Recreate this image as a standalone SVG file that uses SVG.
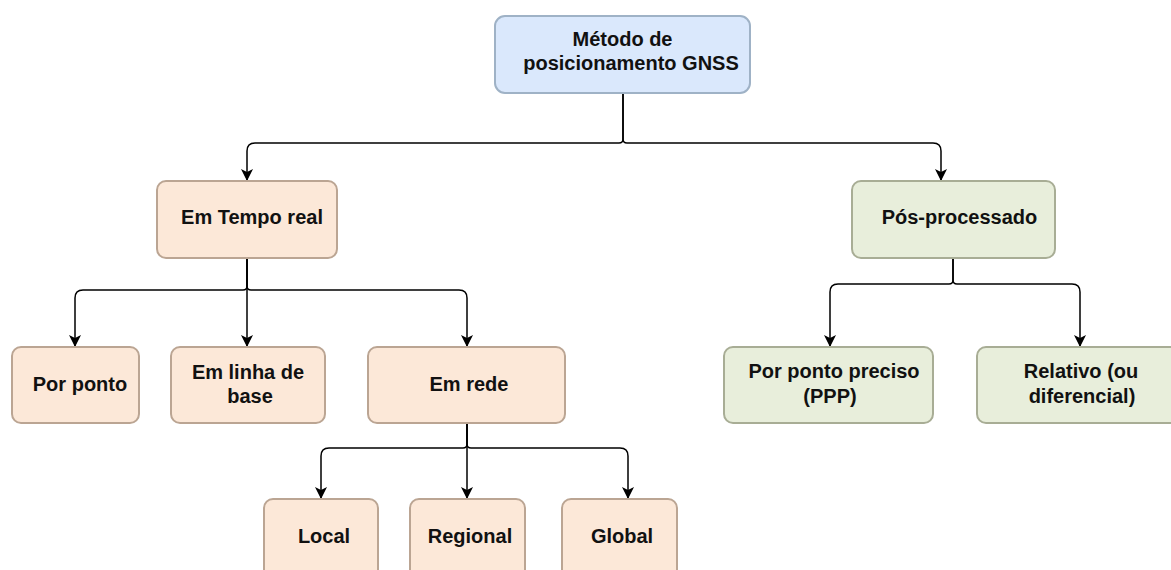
<svg xmlns="http://www.w3.org/2000/svg" width="1171" height="570" viewBox="0 0 1171 570">
<style>
.box{stroke-width:2}
.blue{fill:#dae8fc;stroke:#9fb2c6}
.peach{fill:#fce8d8;stroke:#bba593}
.green{fill:#e8eedb;stroke:#a8ad95}
text{font-family:"Liberation Sans",Arial,sans-serif;font-weight:bold;font-size:20px;fill:#111;text-anchor:middle}
.edge{fill:none;stroke:#000;stroke-width:1.5;marker-end:url(#arr)}
</style>
<defs>
<marker id="arr" markerUnits="userSpaceOnUse" markerWidth="14" markerHeight="14" viewBox="0 0 14 14" refX="13" refY="7" orient="auto">
<path d="M1,1 L13,7 L1,13 L4,7 z" fill="#000"/>
</marker>
</defs>
<rect width="1171" height="570" fill="#fff"/>
<g id="connectors">
<path class="edge" d="M623,93 V139 Q623,143 619,143 H255 Q247,143 247,151 V181"/>
<path class="edge" d="M623,93 V139 Q623,143 627,143 H933 Q941,143 941,151 V181"/>
<path class="edge" d="M247,258 V286 Q247,290 243,290 H83 Q75,290 75,298 V347"/>
<path class="edge" d="M247,258 V347"/>
<path class="edge" d="M247,258 V286 Q247,290 251,290 H459 Q467,290 467,298 V347"/>
<path class="edge" d="M953,258 V280 Q953,284 949,284 H838 Q830,284 830,292 V347"/>
<path class="edge" d="M953,258 V280 Q953,284 957,284 H1072 Q1080,284 1080,292 V347"/>
<path class="edge" d="M467,423 V444 Q467,448 463,448 H329 Q321,448 321,456 V499"/>
<path class="edge" d="M467,423 V499"/>
<path class="edge" d="M467,423 V444 Q467,448 471,448 H620 Q628,448 628,456 V499"/>
</g>
<g id="n-gnss">
<rect class="box blue" x="495" y="16" width="255" height="77" rx="10"/>
<text x="622.5" y="46">Método de</text>
<text x="631" y="70">posicionamento GNSS</text>
</g>
<g id="n-tempo-real">
<rect class="box peach" x="157" y="181" width="180" height="77" rx="9"/>
<text x="252" y="224">Em Tempo real</text>
</g>
<g id="n-pos">
<rect class="box green" x="852" y="181" width="203" height="77" rx="9"/>
<text x="959.5" y="224">Pós-processado</text>
</g>
<g id="n-por-ponto">
<rect class="box peach" x="12" y="347" width="127" height="76" rx="9"/>
<text x="80" y="391">Por ponto</text>
</g>
<g id="n-linha-base">
<rect class="box peach" x="171" y="347" width="154" height="76" rx="9"/>
<text x="248" y="379">Em linha de</text>
<text x="250" y="403">base</text>
</g>
<g id="n-rede">
<rect class="box peach" x="368" y="347" width="197" height="76" rx="9"/>
<text x="469" y="391">Em rede</text>
</g>
<g id="n-ppp">
<rect class="box green" x="724" y="347" width="209" height="76" rx="9"/>
<text x="834" y="378">Por ponto preciso</text>
<text x="830" y="403">(PPP)</text>
</g>
<g id="n-relativo">
<rect class="box green" x="977" y="347" width="205" height="76" rx="9"/>
<text x="1081" y="378">Relativo (ou</text>
<text x="1082" y="403">diferencial)</text>
</g>
<g id="n-local">
<rect class="box peach" x="264" y="499" width="114" height="80" rx="9"/>
<text x="324" y="543">Local</text>
</g>
<g id="n-regional">
<rect class="box peach" x="410" y="499" width="115" height="80" rx="9"/>
<text x="470" y="543">Regional</text>
</g>
<g id="n-global">
<rect class="box peach" x="562" y="499" width="115" height="80" rx="9"/>
<text x="622" y="543">Global</text>
</g>
</svg>
